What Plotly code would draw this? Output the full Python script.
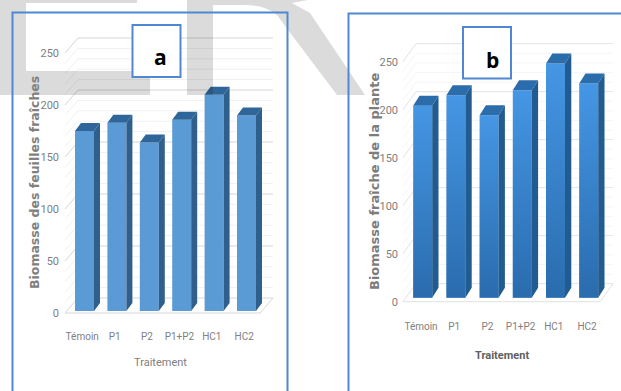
import plotly.graph_objects as go

WIDTH, HEIGHT = 621, 391

# Treatments and fresh biomass per panel
traitements = ["Témoin", "P1", "P2", "P1+P2", "HC1", "HC2"]
biomasse_feuilles = [173, 181, 162, 184, 208, 188]
biomasse_plante = [200, 211, 190, 216, 244, 223]
graduations = [0, 50, 100, 150, 200, 250]
sous_graduations = [10, 20, 30, 40, 60, 70, 80, 90, 110, 120, 130, 140, 160, 170, 180, 190, 210, 220, 230, 240]


def px(x):
    return x / WIDTH


def py(y):
    return 1 - y / HEIGHT


fig = go.Figure()
shapes = []
annotations = []


def panel(suffix, values, left, right, bottom, first, step, zero, scale, bar_px, side_px, top_px,
          lift_px, wall_left, wall_right, floor_left, wall_up, front, side, top, shade, tick_shift,
          minor_color, major_color):
    """Draw one pseudo-3D bar panel; every face is derived from the values."""
    xa, ya = "x" + suffix, "y" + suffix
    top_y = 18
    x_range = [(left - first) / step, (right - first) / step]
    y_range = [(zero - bottom) / scale, (zero - top_y) / scale]
    key = suffix if suffix != "" else ""
    fig.update_layout(**{
        "xaxis" + key: dict(domain=[px(left), px(right)], range=x_range, anchor=ya,
                            tickvals=[i + tick_shift for i in range(len(traitements))],
                            ticktext=traitements, showgrid=False, zeroline=False, showline=False,
                            ticks="", tickfont=dict(family="Roboto", size=10, color="#808080")),
        "yaxis" + key: dict(domain=[py(bottom), py(top_y)], range=y_range, anchor=xa,
                            tickvals=graduations, showgrid=False, zeroline=False, showline=False,
                            ticks="", tickfont=dict(family="Roboto", size=11, color="#808080")),
    })

    base = lift_px / scale
    half = bar_px / step / 2
    dx = side_px / step
    dy = top_px / scale
    x0_wall = (wall_left - first) / step
    x1_wall = (wall_right - first) / step
    x_floor = (floor_left - first) / step
    up = wall_up / scale
    floor_right = x1_wall - (x0_wall - x_floor)

    # Back and side walls, kept below the bars
    def rule(v, color, width):
        shapes.append(dict(type="line", xref=xa, yref=ya, layer="below", x0=x0_wall, x1=x1_wall,
                           y0=v + up, y1=v + up, line=dict(color=color, width=width)))
        shapes.append(dict(type="line", xref=xa, yref=ya, layer="below", x0=x_floor, x1=x0_wall,
                           y0=v, y1=v + up, line=dict(color=color, width=width)))

    for v in sous_graduations:
        rule(v, minor_color, 1)
    for v in graduations:
        rule(v, major_color, 1)
    shapes.append(dict(type="line", xref=xa, yref=ya, layer="below", x0=x_floor, x1=floor_right,
                       y0=0, y1=0, line=dict(color=major_color, width=1)))
    shapes.append(dict(type="line", xref=xa, yref=ya, layer="below", x0=floor_right, x1=x1_wall,
                       y0=0, y1=up, line=dict(color=major_color, width=1)))

    positions = list(range(len(values)))
    fig.add_trace(go.Bar(x=positions, y=values, base=base, width=2 * half, xaxis=xa, yaxis=ya,
                         marker=dict(color=front, line=dict(width=0)), showlegend=False))

    side_x, side_y, top_x, top_yv = [], [], [], []
    for i, v in zip(positions, values):
        xr, xl, t = i + half, i - half, base + v
        side_x += [xr, xr + dx, xr + dx, xr, xr, None]
        side_y += [base, base + dy, t + dy, t, base, None]
        top_x += [xl, xr, xr + dx, xl + dx, xl, None]
        top_yv += [t, t, t + dy, t + dy, t, None]
    fig.add_trace(go.Scatter(x=side_x, y=side_y, xaxis=xa, yaxis=ya, mode="lines", fill="toself",
                             fillcolor=side, line=dict(width=0), showlegend=False, hoverinfo="skip"))
    fig.add_trace(go.Scatter(x=top_x, y=top_yv, xaxis=xa, yaxis=ya, mode="lines", fill="toself",
                             fillcolor=top, line=dict(width=0), showlegend=False, hoverinfo="skip"))

    # Optional shading that darkens each front face towards its foot
    if shade:
        for i, v in zip(positions, values):
            xr, xl, t = i + half, i - half, base + v
            fig.add_trace(go.Scatter(x=[xl, xr, xr, xl, xl], y=[base, base, t, t, base], xaxis=xa, yaxis=ya,
                                     mode="lines", fill="toself", line=dict(width=0),
                                     fillgradient=dict(type="vertical",
                                                       colorscale=[[0, shade], [1, "rgba(30,90,150,0)"]]),
                                     showlegend=False, hoverinfo="skip"))


panel("", biomasse_feuilles, 60, 282, 329, 84.5, 32.4, 313, 1.04, 19, 6, 8, 2, 78, 273, 65, 15,
      "#5b9bd5", "#2f5f8c", "#2f6699", None, -0.07, "#f1f1f1", "#d6d6d6")
panel("2", biomasse_plante, 399, 618, 319, 422.7, 33.2, 301.7, 0.96, 19, 6.3, 10, 4, 416, 613, 403, 18,
      "#4596e4", "#215b90", "#2b6cab", "rgba(30,90,150,0.7)", -0.05, "#f5f5f5", "#e2e2e2")

# Axis titles
annotations += [
    dict(text="<b>Biomasse des feuilles fraîches</b>", x=px(35), y=py(183), textangle=-90, showarrow=False,
         font=dict(family="DejaVu Sans", size=12.5, color="#808080")),
    dict(text="Traitement", x=px(160), y=py(362), showarrow=False,
         font=dict(family="Roboto", size=11, color="#808080")),
    dict(text="<b>Biomasse fraîche de la plante</b>", x=px(374), y=py(182), textangle=-90, showarrow=False,
         font=dict(family="DejaVu Sans", size=13, color="#7c7c7c")),
    dict(text="<b>Traitement</b>", x=px(502), y=py(355), showarrow=False,
         font=dict(family="Roboto", size=11, color="#606060")),
]

# Faint grey lettering crossing the panels
lettre_e = "M0,0 L137,0 L137,3 L26,3 L26,71 L150,71 L150,95 L0,95 Z"
lettre_r = ("M187,0 L308,0 L292,3 L310,13 L365,95 L337,95 L288,30 L277,15 Q264,5 245,5 "
            "L213,5 L213,95 L187,95 Z")


def to_paper(path):
    out = []
    for token in path.split():
        letter = token[0] if token[0].isalpha() else ""
        if token == "Z":
            out.append("Z")
            continue
        a, b = token[len(letter):].split(",")
        out.append(f"{letter}{px(float(a)):.5f},{py(float(b)):.5f}")
    return " ".join(out)


for path in (lettre_e, lettre_r):
    shapes.append(dict(type="path", xref="paper", yref="paper", layer="above", path=to_paper(path),
                       fillcolor="rgba(0,0,0,0.14)", line=dict(width=0)))

# Panel frames, running past the bottom and right of the page, and the letter boxes
frame = dict(color="#4f87d2", width=2)
for x0, x1, y0, y1 in [(12.5, 287.5, 12.5, 400), (348.5, 640, 13.5, 400)]:
    shapes.append(dict(type="rect", xref="paper", yref="paper", layer="above", x0=px(x0), x1=px(x1),
                       y0=py(y1), y1=py(y0), line=frame))
for x0, x1, y0, y1, letter, lx, ly in [(132.5, 180.5, 25, 77, "a", 160, 57), (463, 511, 27, 78.5, "b", 492, 60)]:
    shapes.append(dict(type="rect", xref="paper", yref="paper", layer="above", x0=px(x0), x1=px(x1),
                       y0=py(y1), y1=py(y0), fillcolor="white", line=frame))
    annotations.append(dict(text=f"<b>{letter}</b>", x=px(lx), y=py(ly), showarrow=False,
                            font=dict(family="Open Sans", size=21, color="black")))

for a in annotations:
    a.update(xref="paper", yref="paper", xanchor="center", yanchor="middle")

fig.update_layout(width=WIDTH, height=HEIGHT, autosize=False, margin=dict(l=0, r=0, t=0, b=0),
                  paper_bgcolor="white", plot_bgcolor="rgba(0,0,0,0)", barmode="overlay",
                  shapes=shapes, annotations=annotations, showlegend=False)

fig.write_html("out.html", config=dict(displayModeBar=False))
